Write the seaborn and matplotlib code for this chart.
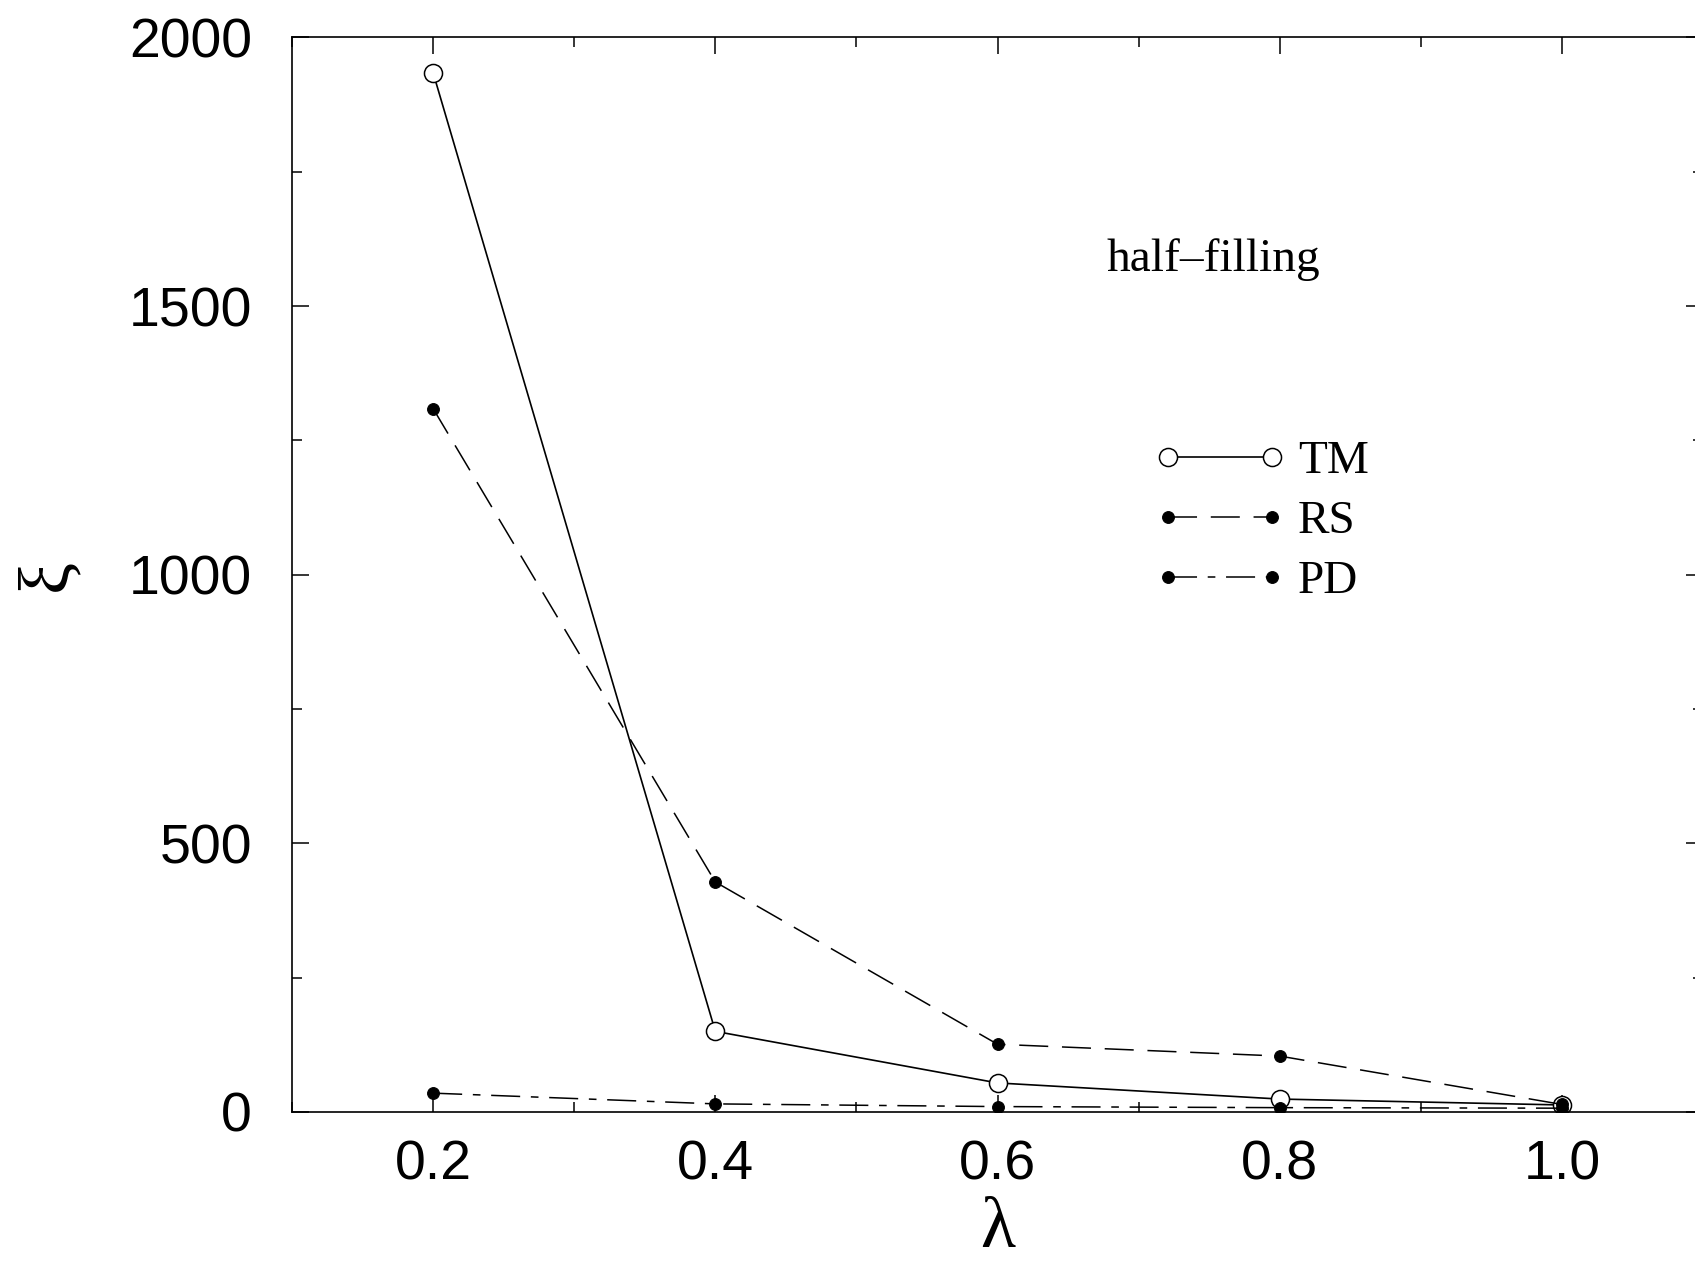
import pandas as pd
import matplotlib
matplotlib.use("Agg")
import matplotlib.pyplot as plt
import seaborn as sns
from matplotlib.lines import Line2D
from matplotlib.legend_handler import HandlerLine2D
from matplotlib.ticker import MultipleLocator

# data
lam = [0.2, 0.4, 0.6, 0.8, 1.0]
xi_tm = [1934, 150, 54, 24, 13]
xi_rs = [1309, 428, 126, 104, 14]
xi_pd = [35, 15, 10, 8, 7]

x_ticks = [0.2, 0.4, 0.6, 0.8, 1.0]
x_tick_labels = ["0.2", "0.4", "0.6", "0.8", "1.0"]
y_ticks = [0, 500, 1000, 1500, 2000]


def main() -> None:
    sns.set_style("ticks")
    plt.rcParams["font.family"] = ["Liberation Sans", "DejaVu Sans"]
    plt.rcParams["text.color"] = "black"
    plt.rcParams["xtick.color"] = "black"
    plt.rcParams["ytick.color"] = "black"
    plt.rcParams["axes.labelcolor"] = "black"

    fig = plt.figure(figsize=(16.95, 12.62), dpi=100)
    ax = fig.add_axes([0.1723, 0.1189, 0.8324, 0.8515])

    df = pd.DataFrame({"lam": lam, "TM": xi_tm, "RS": xi_rs, "PD": xi_pd})

    # TM: solid line, open circles
    sns.lineplot(data=df, x="lam", y="TM", ax=ax, color="black", lw=1.2,
                 marker="o", markersize=13, markerfacecolor="white",
                 markeredgecolor="black", markeredgewidth=1.1, label="TM")
    # RS: dashed, filled dots
    sns.lineplot(data=df, x="lam", y="RS", ax=ax, color="black", lw=1.1,
                 linestyle=(0, (19, 9)), marker="o", markersize=8.5,
                 markerfacecolor="black", markeredgecolor="black", label="RS")
    # PD: dash-dot, filled dots
    sns.lineplot(data=df, x="lam", y="PD", ax=ax, color="black", lw=1.1,
                 linestyle=(0, (19, 7, 5, 7)), marker="o", markersize=8.5,
                 markerfacecolor="black", markeredgecolor="black", label="PD")

    ax.set_xlim(0.1, 1.1)
    ax.set_ylim(0, 2000)
    ax.set_xticks(x_ticks)
    ax.set_xticklabels(x_tick_labels)
    ax.set_yticks(y_ticks)
    ax.xaxis.set_minor_locator(MultipleLocator(0.1))
    ax.yaxis.set_minor_locator(MultipleLocator(250))
    ax.tick_params(which="both", direction="in", top=True, right=True,
                   width=1.1, color="black", labelcolor="black")
    ax.tick_params(which="major", length=12)
    ax.tick_params(which="minor", length=7)
    ax.tick_params(axis="x", labelsize=40, pad=20)
    ax.tick_params(axis="y", labelsize=40, pad=29)
    for sp in ax.spines.values():
        sp.set_linewidth(1.2)
        sp.set_color("black")

    ax.set_xlabel("\u03bb", fontsize=52, family=["Liberation Serif", "DejaVu Serif"],
                  labelpad=4)
    ax.set_ylabel("\u03be", fontsize=52, family=["Liberation Serif", "DejaVu Serif"],
                  labelpad=34)

    ax.text(0.5776, 0.783, "half\u2013filling", transform=ax.transAxes,
            fontsize=34, family=["Liberation Serif", "DejaVu Serif"],
            va="baseline", ha="left")

    ax.legend(loc="upper left", bbox_to_anchor=(0.6208, 0.625),
              frameon=False, borderpad=0, borderaxespad=0,
              handlelength=2.2, handletextpad=0.55, labelspacing=0.36,
              prop={"family": "Liberation Serif", "size": 34},
              handler_map={Line2D: HandlerLine2D(numpoints=2, marker_pad=0)})

    fig.savefig("out.png", dpi=100)


if __name__ == "__main__":
    main()
